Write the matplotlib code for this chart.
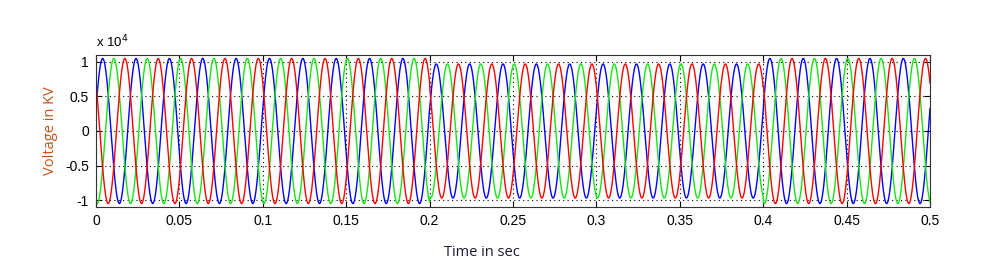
import numpy as np
import matplotlib
matplotlib.use("Agg")
import matplotlib.pyplot as plt

# ---- data ----
segment_edges_s = [0.0, 0.2, 0.4, 0.5]          # voltage sag between 0.2 and 0.4 s
segment_peak_v = [1.05e4, 0.97e4, 1.05e4]       # peak voltage in each segment
frequency_hz = 50.0
phase_names = ["A", "B", "C"]
phase_colors = ["#0000ff", "#14e614", "#ff0000"]
first_peak_time_s = [0.0040, 0.0107, 0.0173]    # time of first positive peak of each phase

x_ticks = [0, 0.05, 0.1, 0.15, 0.2, 0.25, 0.3, 0.35, 0.4, 0.45, 0.5]
x_tick_labels = ["0", "0.05", "0.1", "0.15", "0.2", "0.25", "0.3", "0.35", "0.4", "0.45", "0.5"]
y_ticks = [-1e4, -0.5e4, 0, 0.5e4, 1e4]
y_tick_labels = ["-1", "-0.5", "0", "0.5", "1"]

# ---- build waveforms ----
t = np.linspace(segment_edges_s[0], segment_edges_s[-1], 3001)
amp = np.empty_like(t)
for i in range(len(segment_peak_v)):
    m = (t >= segment_edges_s[i]) & (t <= segment_edges_s[i + 1])
    amp[m] = segment_peak_v[i]

fig = plt.figure(figsize=(9.82, 2.76), dpi=100)
ax = fig.add_axes([96 / 982, 1 - 207 / 276, (930 - 96) / 982, (207 - 55) / 276])

for name, col, tp in zip(phase_names, phase_colors, first_peak_time_s):
    v = amp * np.cos(2 * np.pi * frequency_hz * (t - tp))
    ax.plot(t, v, color=col, lw=1.0)

ax.set_xlim(0, 0.5)
ax.set_ylim(-1.1e4, 1.1e4)
ax.set_xticks(x_ticks)
ax.set_xticklabels(x_tick_labels)
ax.set_yticks(y_ticks)
ax.set_yticklabels(y_tick_labels)
ax.tick_params(direction="in", top=True, right=True, length=4, width=0.8,
               labelsize=10, colors="black", pad=5)
for lab in ax.get_xticklabels() + ax.get_yticklabels():
    lab.set_family("Liberation Sans")
ax.grid(True, linestyle=(0, (1, 3)), color="black", linewidth=0.8)
for s in ax.spines.values():
    s.set_color("#333333")
    s.set_linewidth(0.8)

fig.text(96 / 982, 1 - 42 / 276, r"x 10$^{4}$", fontsize=9.5, family="Liberation Sans",
         ha="left", va="center")

fig.text(482 / 982, 1 - 252 / 276, "Time in sec", fontsize=10.5, family="Open Sans",
         color="#1a1a33", ha="center", va="center")
fig.text(51 / 982, 1 - 131 / 276, "Voltage in KV", fontsize=10.5, family="Open Sans",
         color="#c0561a", ha="center", va="center", rotation=90)

fig.savefig("out.png", dpi=100)
